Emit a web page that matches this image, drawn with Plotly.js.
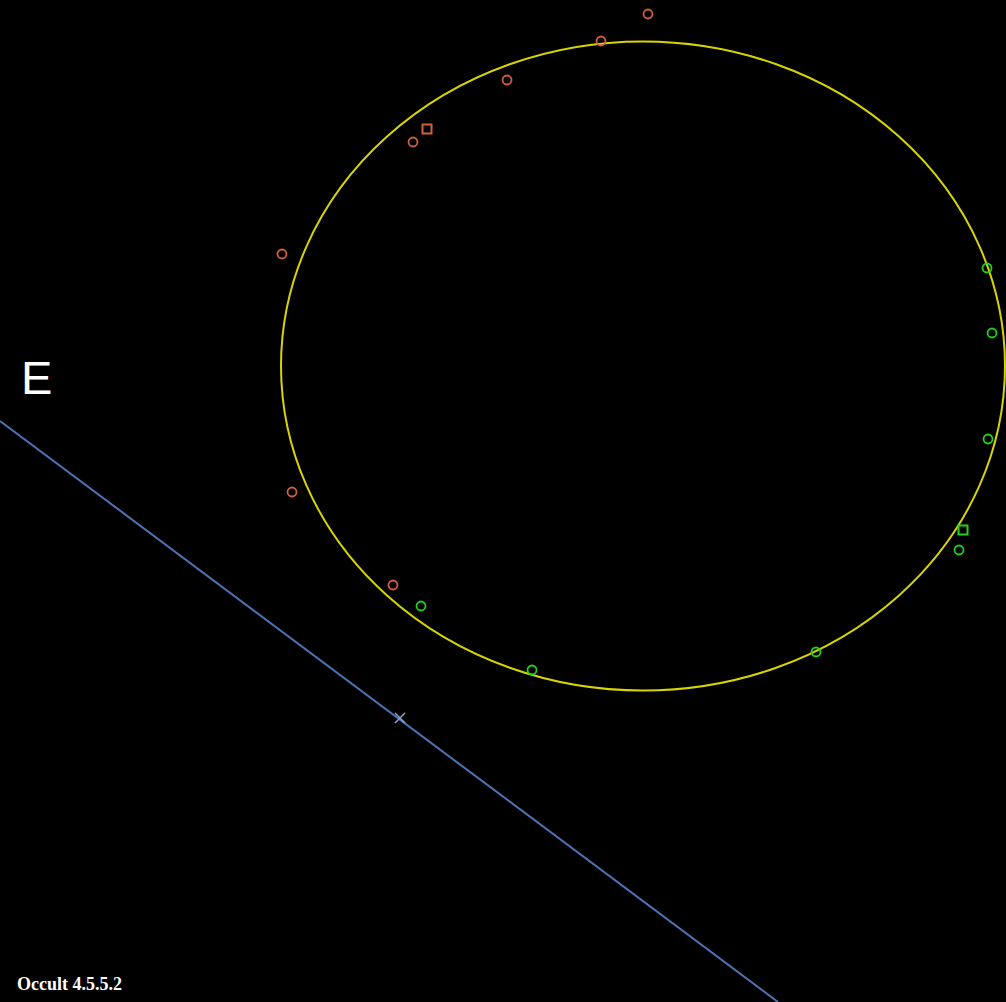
<!DOCTYPE html>
<html>
<head>
<meta charset="utf-8">
<script src="https://cdn.plot.ly/plotly-3.0.1.min.js"></script>
<style>html,body{margin:0;padding:0;background:#000;}#plot{width:1006px;height:1002px;}</style>
</head>
<body>
<div id="plot"></div>
<script>
// Limb profile ellipse (plot units)
const ellipseCenter = [643, 366];
const ellipseSemiAxes = [362, 324.5];

// Disappearance chord ends (red)
const dX = [648, 601, 507, 413, 282, 292, 393];
const dY = [14, 41, 80, 142, 254, 492, 585];
const dSqX = [427];
const dSqY = [129];

// Reappearance chord ends (green)
const rX = [987, 992, 988, 959, 421, 532, 816];
const rY = [268, 333, 439, 550, 606, 670, 652];
const rSqX = [963];
const rSqY = [530];

// Path line and reference point
const pathX = [0, 778];
const pathY = [421, 1002];
const refX = [400];
const refY = [718];

const red = '#d0603f';
const green = '#1ed21e';
const grey = '#8ea2c8';

const traces = [
  {x: pathX, y: pathY, mode: 'lines', line: {color: '#4f72b4', width: 2}, hoverinfo: 'skip'},
  {x: refX, y: refY, mode: 'markers', marker: {symbol: 'x-thin-open', size: 10, color: grey, line: {color: grey, width: 1.5}}},
  {x: dX, y: dY, mode: 'markers', marker: {symbol: 'circle-open', size: 9, line: {color: red, width: 1.8}, color: red}},
  {x: dSqX, y: dSqY, mode: 'markers', marker: {symbol: 'square-open', size: 9, line: {color: red, width: 2}, color: red}},
  {x: rX, y: rY, mode: 'markers', marker: {symbol: 'circle-open', size: 9, line: {color: green, width: 1.8}, color: green}},
  {x: rSqX, y: rSqY, mode: 'markers', marker: {symbol: 'square-open', size: 9, line: {color: green, width: 2}, color: green}}
];

const layout = {
  width: 1006, height: 1002,
  margin: {l: 0, r: 0, t: 0, b: 0},
  paper_bgcolor: '#000', plot_bgcolor: '#000',
  showlegend: false,
  xaxis: {range: [0, 1006], visible: false, fixedrange: true},
  yaxis: {range: [1002, 0], visible: false, fixedrange: true},
  shapes: [{
    type: 'circle', xref: 'x', yref: 'y',
    x0: ellipseCenter[0] - ellipseSemiAxes[0], x1: ellipseCenter[0] + ellipseSemiAxes[0],
    y0: ellipseCenter[1] - ellipseSemiAxes[1], y1: ellipseCenter[1] + ellipseSemiAxes[1],
    line: {color: '#d8d400', width: 2}, layer: 'below'
  }],
  annotations: [
    {text: 'E', x: 19, y: 377, xref: 'x', yref: 'y', xanchor: 'left', yanchor: 'middle', showarrow: false,
     font: {family: 'Liberation Sans, Arial, sans-serif', size: 47, color: '#ffffff'}},
    {text: '<b>Occult 4.5.5.2</b>', x: 15, y: 984, xref: 'x', yref: 'y', xanchor: 'left', yanchor: 'middle', showarrow: false,
     font: {family: 'Liberation Serif, Times New Roman, serif', size: 18, color: '#ffffff'}}
  ]
};

Plotly.newPlot('plot', traces, layout, {displayModeBar: false, staticPlot: true});
</script>
</body>
</html>
